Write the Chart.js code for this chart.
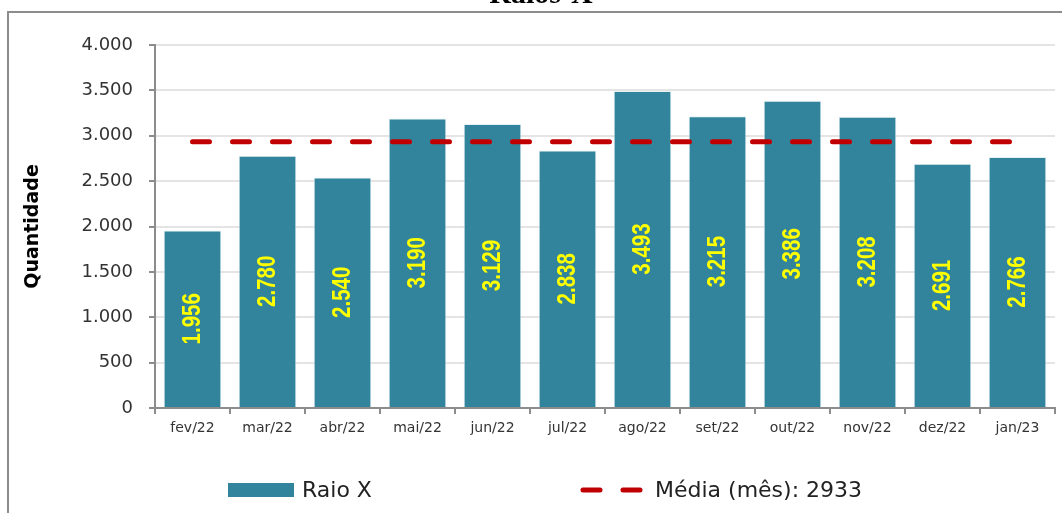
<!DOCTYPE html>
<html>
<head>
<meta charset="utf-8">
<script src="https://cdn.jsdelivr.net/npm/chart.js@4/dist/chart.umd.min.js"></script>
<style>
  html, body { margin: 0; padding: 0; background: #fff; }
  #wrap { width: 1062px; height: 513px; position: relative; }
</style>
</head>
<body>
<div id="wrap"><canvas id="chart"></canvas></div>
<script>
const months = ['fev/22', 'mar/22', 'abr/22', 'mai/22', 'jun/22', 'jul/22', 'ago/22', 'set/22', 'out/22', 'nov/22', 'dez/22', 'jan/23'];
const raioX = [1956, 2780, 2540, 3190, 3129, 2838, 3493, 3215, 3386, 3208, 2691, 2766];
const media = 2933;
const mediaLine = months.map(() => media);
const yTicks = [0, 500, 1000, 1500, 2000, 2500, 3000, 3500, 4000];

const barColor = '#31849b';
const lineColor = '#c00000';

function fmt(n) {
  return String(n).replace(/\B(?=(\d{3})+(?!\d))/g, '.');
}

// frame, cut title, bar labels and legend
const extras = {
  id: 'extras',
  afterDatasetsDraw(chart) {
    const ctx = chart.ctx;
    const meta = chart.getDatasetMeta(1);
    ctx.save();
    ctx.fillStyle = '#ffff00';
    ctx.font = 'bold 25px "Liberation Sans", sans-serif';
    ctx.textAlign = 'center';
    ctx.textBaseline = 'middle';
    meta.data.forEach((bar, i) => {
      const cy = (bar.y + bar.base) / 2;
      ctx.save();
      ctx.translate(bar.x + 1, cy);
      ctx.rotate(-Math.PI / 2);
      ctx.scale(0.82, 1); // narrow look
      ctx.fillText(fmt(raioX[i]), 0, 0);
      ctx.restore();
    });
    ctx.restore();
  },
  afterDraw(chart) {
    const ctx = chart.ctx;
    ctx.save();
    // frame
    ctx.strokeStyle = '#8c8c8c';
    ctx.lineWidth = 2;
    ctx.beginPath();
    ctx.moveTo(8, 513);
    ctx.lineTo(8, 12);
    ctx.lineTo(1062, 12);
    ctx.stroke();
    // title (mostly cut off at the top)
    ctx.fillStyle = '#000';
    ctx.font = 'bold 30px "Liberation Serif", serif';
    ctx.textAlign = 'center';
    ctx.textBaseline = 'alphabetic';
    ctx.fillText('Raios-X', 541, 3);
    // legend
    ctx.fillStyle = barColor;
    ctx.fillRect(228, 483, 66, 14);
    ctx.fillStyle = '#222';
    ctx.font = '22px "DejaVu Sans", sans-serif';
    ctx.textAlign = 'left';
    ctx.textBaseline = 'middle';
    ctx.fillText('Raio X', 302, 491);
    ctx.strokeStyle = lineColor;
    ctx.lineWidth = 5;
    ctx.lineCap = 'round';
    ctx.beginPath();
    ctx.moveTo(583, 490); ctx.lineTo(600, 490);
    ctx.moveTo(623, 490); ctx.lineTo(640, 490);
    ctx.stroke();
    ctx.fillText('Média (mês): ' + media, 655, 491);
    ctx.restore();
  }
};

new Chart(document.getElementById('chart'), {
  data: {
    labels: months,
    datasets: [
      {
        type: 'line',
        label: 'Média (mês): ' + media,
        data: mediaLine,
        borderColor: lineColor,
        borderWidth: 5,
        borderDash: [17, 23],
        borderCapStyle: 'round',
        pointRadius: 0,
        fill: false,
        order: 0
      },
      {
        type: 'bar',
        label: 'Raio X',
        data: raioX,
        backgroundColor: barColor,
        borderColor: 'rgba(220,235,240,0.7)',
        borderWidth: 1,
        barPercentage: 0.77,
        categoryPercentage: 1,
        order: 1
      }
    ]
  },
  options: {
    responsive: true,
    maintainAspectRatio: false,
    animation: false,
    layout: { padding: { top: 45, right: 7, left: 0, bottom: 0 } },
    plugins: {
      legend: { display: false },
      tooltip: { enabled: false }
    },
    scales: {
      x: {
        afterFit(scale) { scale.height = 105; },
        grid: {
          offset: true,
          drawOnChartArea: false,
          drawTicks: true,
          tickLength: 6,
          color: '#8c8c8c',
          lineWidth: 2
        },
        border: { color: '#8c8c8c', width: 2 },
        ticks: {
          color: '#333',
          font: { family: '"DejaVu Sans", sans-serif', size: 14 },
          padding: 6,
          maxRotation: 0
        }
      },
      y: {
        min: 0,
        max: 4000,
        afterFit(scale) { scale.width = 155; },
        afterBuildTicks(scale) { scale.ticks = yTicks.map(v => ({ value: v })); },
        grid: {
          color: '#e4e4e4',
          lineWidth: 2,
          tickLength: 6,
          tickColor: '#8c8c8c',
          tickWidth: 2
        },
        border: { color: '#8c8c8c', width: 2 },
        ticks: {
          color: '#333',
          font: { family: '"DejaVu Sans", sans-serif', size: 18 },
          padding: 16,
          callback: v => fmt(v)
        },
        title: {
          display: true,
          text: 'Quantidade',
          color: '#000',
          font: { family: '"DejaVu Sans", sans-serif', size: 19, weight: 'bold' },
          padding: { top: 22, bottom: 0 }
        }
      }
    }
  },
  plugins: [extras]
});
</script>
</body>
</html>
